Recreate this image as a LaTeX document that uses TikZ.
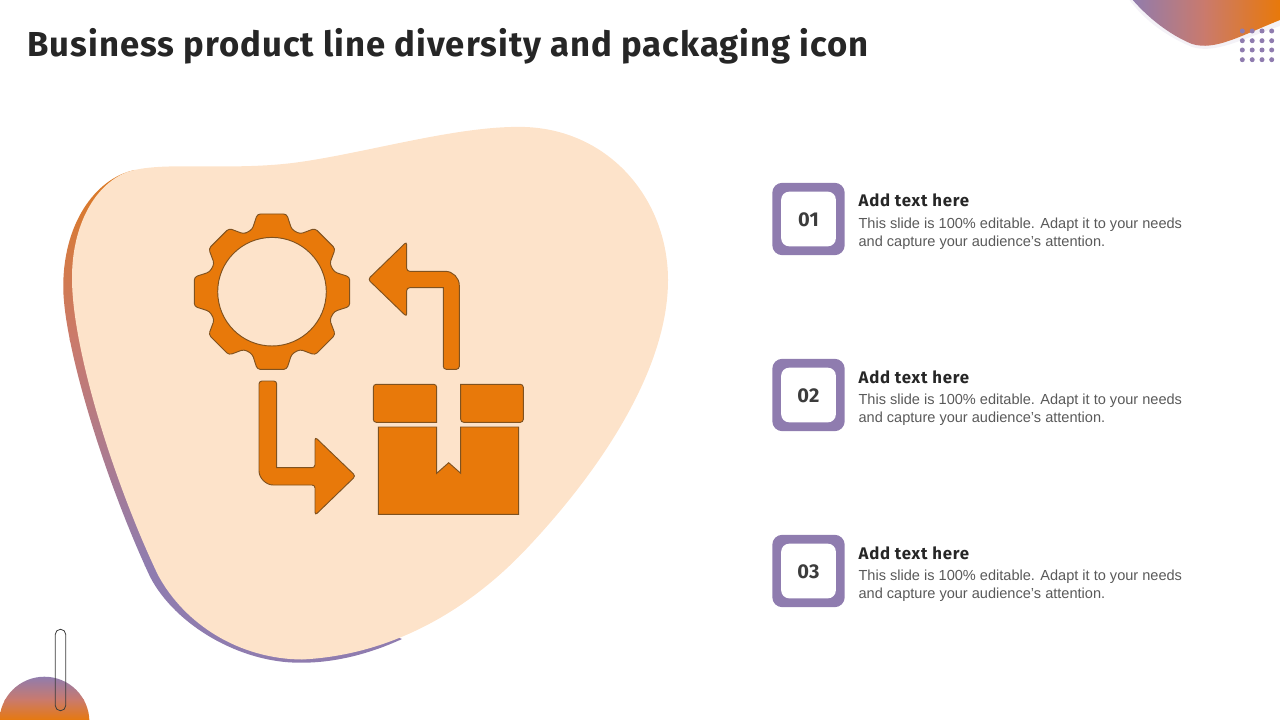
\documentclass[tikz,border=0pt]{standalone}
\usepackage{fontspec}
\setmainfont{Liberation Sans}
\newfontfamily\titlefont[LetterSpace=2.9]{Fira Sans}
\newfontfamily\headfont[LetterSpace=4.6]{Fira Sans}
\newfontfamily\numfont[LetterSpace=1.5]{Fira Sans}
\definecolor{orangeA}{HTML}{E8790A}
\definecolor{purpleA}{HTML}{8F7CAF}
\definecolor{midA}{HTML}{CA7A6C}
\definecolor{peach}{HTML}{FDE3CA}
\definecolor{edgeA}{HTML}{7F5220}
\definecolor{inkA}{HTML}{262626}
\definecolor{bodyA}{HTML}{595959}
\tikzset{
  x=0.75pt,y=-0.75pt,
  iconshape/.style={fill=orangeA,draw=edgeA,line width=0.7pt,rounded corners=2.2pt,even odd rule},
  titletext/.style={anchor=base west,inner sep=0,text=inkA,font=\titlefont\bfseries\fontsize{26}{32}\selectfont},
  headtext/.style={anchor=base west,inner sep=0,text=inkA,font=\headfont\bfseries\fontsize{12.6}{16}\selectfont},
  bodytext/.style={anchor=base west,inner sep=0,text=bodyA,font=\fontsize{10.92}{13.2}\selectfont},
  outerbox/.style={fill=purpleA,rounded corners=7.5pt,minimum size=54.3pt,inner sep=0},
  innerbox/.style={fill=white,rounded corners=6pt,minimum size=41pt,inner sep=0,text=inkA!90,font=\numfont\bfseries\fontsize{15}{18}\selectfont},
  dotmark/.style={fill=purpleA,radius=2.5},
}
\begin{document}
\begin{tikzpicture}
\useasboundingbox (0,0) rectangle (1280,720);
\clip (0,0) rectangle (1280,720);
% top-right blob
\fill[purpleA!10] (1128,-2) .. controls (1145,22) and (1170,38) .. (1192,47)
  .. controls (1215,54) and (1240,40) .. (1280,26) -- (1280,-2) -- cycle;
\begin{scope}
\clip (1131,-2) .. controls (1148,18) and (1170,35) .. (1192,44)
  .. controls (1215,51) and (1240,36) .. (1280,20) -- (1280,-2) -- cycle;
\shade[left color=purpleA,right color=midA] (1130,-2) rectangle (1205,60);
\shade[left color=midA,right color=orangeA] (1204.5,-2) rectangle (1280,60);
\end{scope}
\foreach \px in {1242.3,1252.2,1262,1271.7}
  \foreach \py in {31,40.7,50,59.7}
    \fill[dotmark] (\px,\py) circle;
% bottom-left
\begin{scope}
\clip (44.4,721.7) circle (45);
\shade[top color=purpleA,bottom color=midA] (-2,676) rectangle (92,700);
\shade[top color=midA,bottom color=orangeA] (-2,699.5) rectangle (92,721);
\end{scope}
\draw[inkA!90,line width=0.6pt,rounded corners=3.8pt] (55.3,629.3) rectangle (65.7,710.7);
% blob shadow crescent
\begin{scope}
\clip (135,170) .. controls (95,178) and (62,225) .. (63.3,290)
  .. controls (65,350) and (105,480) .. (150,576.7)
  .. controls (175,625) and (240,663) .. (300,662.7)
  .. controls (330,663) and (365,656) .. (402,639)
  -- (300,600) -- (200,400) -- cycle;
\shade[top color=orangeA!88!purpleA,bottom color=midA] (50,165) rectangle (420,340);
\shade[top color=midA,bottom color=purpleA] (50,339.5) rectangle (420,565);
\fill[purpleA] (50,564.5) rectangle (420,670);
\end{scope}
% blob
\fill[peach] (126,172.5)
  .. controls (160,160) and (230,172) .. (300,162)
  .. controls (370,152) and (460,125) .. (525,127)
  .. controls (610,130) and (668,200) .. (668,280)
  .. controls (668,370) and (600,470) .. (530,545)
  .. controls (470,610) and (392,655) .. (302,659.5)
  .. controls (240,659) and (185,625) .. (158,575)
  .. controls (115,485) and (72,350) .. (72,278)
  .. controls (72,225) and (95,185) .. (126,172.5) -- cycle;
% gear
\begin{scope}[shift={(272,291.7)}]
\draw[iconshape,rounded corners=2.3pt] (-23.85,-60)
  \foreach \a in {0,-90,-180,-270}{
    -- ([rotate=\a]-19.7,-62.3) -- ([rotate=\a]-14.7,-77.7) -- ([rotate=\a]14.7,-77.7) -- ([rotate=\a]19.7,-62.3)
    -- ([rotate=\a]28,-57.7) -- ([rotate=\a]43,-63.3) -- ([rotate=\a]63.3,-43) -- ([rotate=\a]57.7,-28) } -- cycle
  (0,0) circle (54.3);
\end{scope}
% arrow up-left
\draw[iconshape] (459.3,369.3) -- (459.3,288.3) .. controls (459.3,278) and (453,271.3) .. (442.3,271.3) -- (406.7,271.3) -- (406.7,241.7)
  -- (368,279.3) -- (406.7,316.7) -- (406.7,287.7) [sharp corners] -- (443.3,287.7) [rounded corners=2.2pt] -- (443.3,369.3) -- cycle;
% arrow down-right
\draw[iconshape] (259,381) -- (259,468) .. controls (259,478) and (266,485) .. (276,485) -- (315,485) -- (315,515.3)
  -- (355.6,476) -- (315,437) -- (315,467.7) [sharp corners] -- (276.7,467.7) [rounded corners=2.2pt] -- (276.7,381) -- cycle;
% box
\draw[iconshape] (373.3,384.3) -- (436.7,384.3) [sharp corners] -- (436.7,422.3) [rounded corners=2.2pt] -- (373.3,422.3) -- cycle;
\draw[iconshape] (460.7,422.3) [sharp corners] -- (460.7,384.3) [rounded corners=2.2pt] -- (523.3,384.3) -- (523.3,422.3) -- cycle;
\draw[iconshape,sharp corners] (378.3,427) -- (436.7,427) -- (436.7,473.3) -- (448.7,462.7) -- (460.7,473.3)
  -- (460.7,427) -- (518.7,427) -- (518.7,514.3) -- (378.3,514.3) -- cycle;
% title
\node[titletext] (title) at (27,56.7) {Business product line diversity and packaging icon};
% rows
\foreach \n/\yy/\lab in {1/0/01,2/176/02,3/352/03}{
  \node[outerbox] (outer\n) at (808.5,219+\yy) {};
  \node[innerbox] (inner\n) at (outer\n.center) {\raisebox{-5.95pt}[0pt][0pt]{\lab}};
  \node[headtext] (head\n) at (858.3,207+\yy) {Add text here};
  \node[bodytext] (bodyl\n) at (858.3,228.7+\yy) {This slide is 100\% editable. Adapt it to your needs};
  \node[bodytext] (bodym\n) at (858.3,246.7+\yy) {and capture your audience’s attention.};
}
\end{tikzpicture}
\end{document}
